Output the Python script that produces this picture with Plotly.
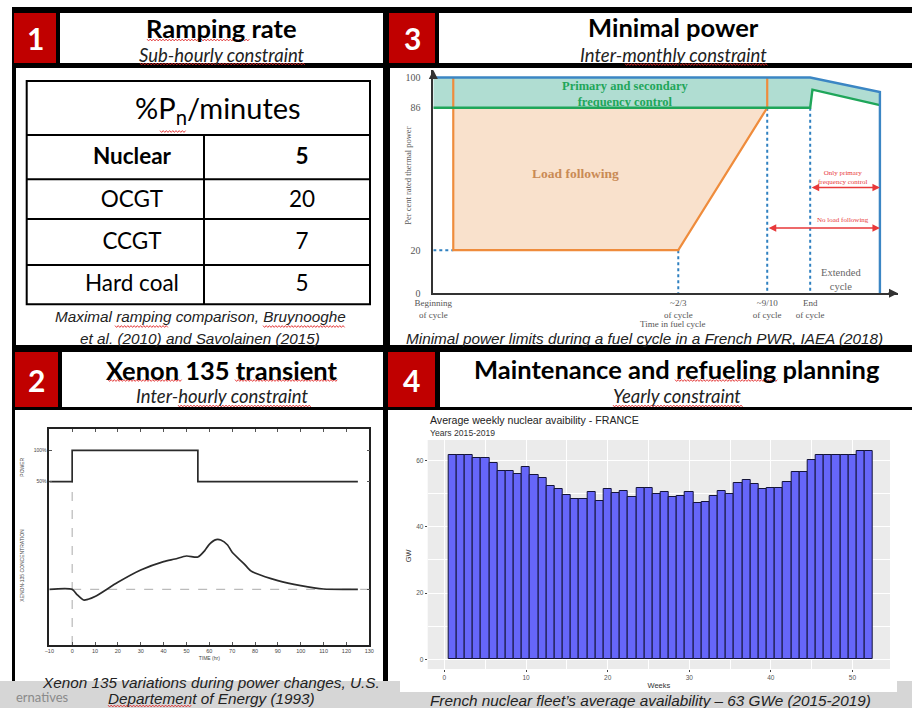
import plotly.graph_objects as go

W, H = 912, 708

# ---------------- data ----------------
# Panel 1 : ramping rate table
ramp_header = "%P<sub>n</sub>/minutes"
ramp_tech = ["Nuclear", "OCGT", "CCGT", "Hard coal"]
ramp_rate = [5, 20, 7, 5]

# Panel 2 : xenon 135 transient
power_time = [-10, 0, 55, 125]
power_pct = [50, 100, 50, 50]
xenon_time = [-10, 0, 2, 5, 7, 10, 20, 30, 40, 45, 50, 55, 58, 60, 63, 65, 68, 70, 75, 78, 80, 90, 100, 110, 125]
xenon_rel = [1.0, 1.0, 0.95, 0.893, 0.9, 0.927, 1.07, 1.193, 1.277, 1.303, 1.333, 1.323, 1.387, 1.45, 1.497,
             1.493, 1.443, 1.37, 1.26, 1.187, 1.163, 1.087, 1.037, 1.003, 1.0]
xenon_ref = 1.0
time_ticks = list(range(-10, 131, 10))
power_ticks = [50, 100]
power_tick_text = ["50%", "100%"]

# Panel 3 : minimal power during a fuel cycle
cycle_pos = [0, 0.650, 0.886, 1.0]
cycle_labels = ["Beginning<br>of cycle", "~2/3<br>of cycle", "~9/10<br>of cycle", "End<br>of cycle"]
thermal_ticks = [0, 20, 86, 100]
maxpow_x = [0, 1.0, 1.185, 1.185]
maxpow_y = [100, 100, 93.3, 0]
freqctl_x = [0, 1.0, 1.006, 1.185]
freqctl_y = [86, 86, 94.4, 87.2]
loadfol_x = [0.053, 0.053, 0.650, 0.886, 0.886]
loadfol_y = [100, 20, 20, 86, 100]

# Panel 4 : weekly nuclear availability
weeks = list(range(1, 53))
avail_gw = [61.7, 61.7, 61.7, 60.7, 60.7, 59.2, 56.9, 56.9, 56.1, 58.2,
            55.8, 54.9, 52.3, 51.4, 49.6, 48.3, 48.3, 50.5, 47.8, 51.4,
            50.1, 50.9, 49.1, 51.7, 51.7, 50.0, 50.4, 48.9, 49.4, 50.4,
            47.2, 47.4, 49.3, 50.8, 49.8, 53.3, 54.2, 52.9, 51.3, 51.7,
            51.7, 53.6, 56.7, 56.7, 60.3, 61.8, 61.8, 61.8, 61.8, 61.8,
            63.0, 63.0]
week_ticks = [0, 10, 20, 30, 40, 50]
gw_ticks = [0, 20, 40, 60]

# ---------------- helpers ----------------
CAL = "Lato, Carlito, sans-serif"
ARI = "Liberation Sans, Arial, sans-serif"
TNR = "Liberation Serif, Times New Roman, serif"


def X(p):
    return p / W


def Y(p):
    return 1 - p / H


def dx(a, b):
    return [X(a), X(b)]


def dy(top, bottom):
    return [Y(bottom), Y(top)]


shapes = []
anns = []


def rect(x0, y0, x1, y1, fill, line=None, lw=0, layer="below"):
    shapes.append(dict(type="rect", xref="paper", yref="paper",
                       x0=X(x0), x1=X(x1), y0=Y(y1), y1=Y(y0),
                       fillcolor=fill, line=dict(color=line or fill, width=lw), layer=layer))


def seg(x0, y0, x1, y1, color="black", lw=2):
    shapes.append(dict(type="line", xref="paper", yref="paper",
                       x0=X(x0), x1=X(x1), y0=Y(y0), y1=Y(y1),
                       line=dict(color=color, width=lw), layer="above"))


def squiggle(x0, x1, y, step=1.6, amp=0.9):
    """spell-check style red wavy underline (decoration of the slide)"""
    pts = []
    k = 0
    x = x0
    while x <= x1:
        yy = y + (amp if k % 2 else -amp)
        pts.append(f"{X(x):.5f},{Y(yy):.5f}")
        x += step
        k += 1
    shapes.append(dict(type="path", xref="paper", yref="paper", path="M " + " L ".join(pts),
                       line=dict(color="#e02828", width=0.9), layer="above"))


def text(x, y, s, size, family=CAL, color="#000", xanchor="center", angle=0):
    anns.append(dict(x=X(x), y=Y(y), xref="paper", yref="paper", text=s, showarrow=False,
                     font=dict(family=family, size=size, color=color),
                     xanchor=xanchor, yanchor="middle", textangle=angle))


RED = "#c00000"
TSZ = 25.5   # panel titles
SSZ = 18.5   # panel subtitles
CSZ = 15.3   # captions

# ---------------- frame ----------------
rect(12, 7, 912, 682, "black")
# headers
rect(14, 13, 56, 63, RED)
rect(60, 13, 383, 63, "white")
rect(389, 13, 435, 63, RED)
rect(439, 13, 912, 63, "white")
rect(15, 352, 58, 407, RED)
rect(62, 352, 383, 407, "white")
rect(388, 352, 435, 407, RED)
rect(440, 352, 912, 407, "white")
# bodies
rect(16, 68, 383, 345, "white")
rect(390, 68, 912, 345, "white")
rect(15, 410, 383, 682, "white")
rect(388, 410, 912, 682, "white")
# bottom grey band
rect(0, 681, 912, 708, "#d6d6d6")
rect(400, 681, 897, 692, "white")
text(14, 697, "ernatives", 13, CAL, "#8a8a8a", xanchor="left")

# numbers
text(35, 38, "<b>1</b>", 30, CAL, "white")
text(412, 38, "<b>3</b>", 30, CAL, "white")
text(36.5, 380, "<b>2</b>", 30, CAL, "white")
text(411.5, 380, "<b>4</b>", 30, CAL, "white")

# titles
text(221.7, 28, "<b>Ramping rate</b>", TSZ)
text(221.7, 55, "<i>Sub-hourly constraint</i>", SSZ, color="#222")
text(673, 27, "<b>Minimal power</b>", TSZ)
text(673, 54.5, "<i>Inter-monthly constraint</i>", SSZ, color="#222")
text(222, 369.5, "<b>Xenon 135 transient</b>", TSZ)
text(222, 395.5, "<i>Inter-hourly constraint</i>", SSZ, color="#222")
text(677, 369, "<b>Maintenance and refueling planning</b>", TSZ)
text(677, 395.5, "<i>Yearly constraint</i>", SSZ, color="#222")

# captions
text(200, 316.7, "<i>Maximal ramping comparison, Bruynooghe</i>", CSZ, ARI, "#222")
text(200, 338.3, "<i>et al. (2010) and Savolainen (2015)</i>", CSZ, ARI, "#222")
text(644, 338, "<i>Minimal power limits during a fuel cycle in a French PWR, IAEA (2018)</i>", CSZ, ARI, "#222")
text(211, 682, "<i>Xenon 135 variations during power changes, U.S.</i>", CSZ, ARI, "#222")
text(211.7, 698.5, "<i>Departement of Energy (1993)</i>", CSZ, ARI, "#222")
text(650, 700, "<i>French nuclear fleet\u2019s average availability \u2013 63 GWe (2015-2019)</i>", CSZ, ARI, "#222")

# spell-check underlines seen on the slide
squiggle(147, 250, 40)
squiggle(140, 305, 64)
squiggle(625, 768, 64.5)
squiggle(160, 187, 131.5)
squiggle(115, 168, 326.5)
squiggle(263, 345, 326.5)
squiggle(108, 182, 380.5)
squiggle(235, 338, 380.5)
squiggle(178, 312, 406)
squiggle(675, 778, 380.5)
squiggle(613, 743, 406)
squiggle(108, 192, 706)

# ---------------- panel 1 table ----------------
rect(26.7, 81, 370, 304.3, "rgba(0,0,0,0)", "black", 2, layer="above")
for yy in [135, 179.3, 219, 265]:
    seg(26.7, yy, 370, yy)
seg(204, 135, 204, 304.3)
text(218, 110, ramp_header, 29)

fig = go.Figure()
fig.add_trace(go.Scatter(
    x=[0] * len(ramp_tech), y=ramp_tech, mode="text",
    text=[f"<b>{t}</b>" if i == 0 else t for i, t in enumerate(ramp_tech)],
    textfont=dict(family=CAL, size=22.5, color="black"), xaxis="x", yaxis="y", hoverinfo="skip"))
fig.add_trace(go.Scatter(
    x=[1] * len(ramp_tech), y=ramp_tech, mode="text",
    text=[f"<b>{v}</b>" if i == 0 else str(v) for i, v in enumerate(ramp_rate)],
    textfont=dict(family=CAL, size=22.5, color="black"), xaxis="x", yaxis="y", hoverinfo="skip"))

# ---------------- panel 2 xenon ----------------
fig.add_trace(go.Scatter(x=power_time, y=power_pct, mode="lines",
                         line=dict(color="#2b2b2b", width=1.7, shape="hv"),
                         xaxis="x2", yaxis="y4", hoverinfo="skip"))
fig.add_trace(go.Scatter(x=xenon_time, y=xenon_rel, mode="lines",
                         line=dict(color="#2b2b2b", width=1.7, shape="spline", smoothing=0.7),
                         xaxis="x2", yaxis="y2", hoverinfo="skip"))
PWR_RANGE = [-210, 133.9]
shapes.append(dict(type="line", xref="x2", yref="y2", x0=0, x1=130, y0=xenon_ref, y1=xenon_ref,
                   line=dict(color="#aaaaaa", width=1, dash="dash"), layer="below"))
shapes.append(dict(type="line", xref="x2", yref="y4", x0=0, x1=0, y0=PWR_RANGE[0], y1=power_pct[0],
                   line=dict(color="#aaaaaa", width=1, dash="dash"), layer="below"))
text(21.7, 467, "POWER", 5, ARI, "#444", angle=-90)
text(21.7, 565, "XENON-135 CONCENTRATION", 5, ARI, "#444", angle=-90)

# ---------------- panel 3 minimal power ----------------
fig.add_trace(go.Scatter(x=maxpow_x[:3] + freqctl_x[::-1], y=maxpow_y[:3] + freqctl_y[::-1],
                         fill="toself", fillcolor="rgba(150,210,195,0.75)", mode="lines",
                         line=dict(width=0), xaxis="x3", yaxis="y3", hoverinfo="skip"))
fig.add_trace(go.Scatter(x=[loadfol_x[0]] + loadfol_x[1:4], y=[freqctl_y[0]] + loadfol_y[1:4],
                         fill="toself", fillcolor="#f9e1cc", mode="lines",
                         line=dict(width=0), xaxis="x3", yaxis="y3", hoverinfo="skip"))
low, mid = loadfol_y[1], freqctl_y[0]
fig.add_trace(go.Scatter(
    x=[0, loadfol_x[0], None, cycle_pos[1], cycle_pos[1], None, cycle_pos[2], cycle_pos[2], None,
       cycle_pos[3], cycle_pos[3]],
    y=[low, low, None, low, 0, None, mid, 0, None, mid, 0],
    mode="lines", line=dict(color="#2f80c0", width=2, dash="dot"),
    xaxis="x3", yaxis="y3", hoverinfo="skip"))
fig.add_trace(go.Scatter(x=loadfol_x, y=loadfol_y, mode="lines",
                         line=dict(color="#ef8c3c", width=2.2), xaxis="x3", yaxis="y3", hoverinfo="skip"))
fig.add_trace(go.Scatter(x=freqctl_x, y=freqctl_y, mode="lines",
                         line=dict(color="#1fa65a", width=2.4), xaxis="x3", yaxis="y3", hoverinfo="skip"))
fig.add_trace(go.Scatter(x=maxpow_x, y=maxpow_y, mode="lines",
                         line=dict(color="#3b86c4", width=2.4), xaxis="x3", yaxis="y3", hoverinfo="skip"))

X3_RANGE = [0, 1.233]
Y3_RANGE = [0, 103.5]


def ann3(x, y, s, size, color, family=TNR):
    anns.append(dict(x=x, y=y, xref="x3", yref="y3", text=s, showarrow=False,
                     font=dict(family=family, size=size, color=color)))


ann3(0.508, 92.4, "<b>Primary and secondary<br>frequency control</b>", 12.5, "#1fa65a")
ann3(0.376, 55.7, "<b>Load following</b>", 13.5, "#c98a55")
ann3(1.087, 53.7, "Only primary<br>frequency control", 7, "#e8393a")
ann3(1.087, 34.0, "No load following", 7, "#e8393a")
ann3(1.081, 6.6, "Extended<br>cycle", 10.5, "#666")
for (xa, xb, yv) in [(1.0, 1.185, 49), (0.886, 1.185, 30.3)]:
    anns.append(dict(x=xb, y=yv, ax=xa, ay=yv, xref="x3", yref="y3", axref="x3", ayref="y3",
                     text="", showarrow=True, arrowhead=2, arrowside="end+start",
                     arrowsize=1, arrowwidth=1.5, arrowcolor="#e8393a"))
# axis arrows
anns.append(dict(x=X3_RANGE[1], y=0, ax=X3_RANGE[1] - 0.03, ay=0, xref="x3", yref="y3", axref="x3",
                 ayref="y3", text="", showarrow=True, arrowhead=2, arrowsize=1.2, arrowwidth=1.5,
                 arrowcolor="#333"))
anns.append(dict(x=0, y=Y3_RANGE[1], ax=0, ay=Y3_RANGE[1] - 4, xref="x3", yref="y3", axref="x3",
                 ayref="y3", text="", showarrow=True, arrowhead=2, arrowsize=1.2, arrowwidth=1.5,
                 arrowcolor="#333"))
text(672, 324.5, "Time in fuel cycle", 9, TNR, "#555")
text(407.7, 176, "Per cent rated thermal power", 8.5, TNR, "#555", angle=-90)

# ---------------- panel 4 bars ----------------
fig.add_trace(go.Bar(x=weeks, y=avail_gw, width=1, marker=dict(color="#6666f9", line=dict(color="#14143a", width=1)),
                     xaxis="x5", yaxis="y5", hoverinfo="skip"))
shapes.append(dict(type="rect", xref="x5 domain", yref="y5 domain", x0=0, x1=1, y0=0, y1=1,
                   fillcolor="#ebebeb", line=dict(width=0), layer="below"))
text(428, 420, "Average weekly nuclear avaibility - FRANCE", 10.6, ARI, "#222", xanchor="left")
text(428, 432.5, "Years 2015-2019", 8.6, ARI, "#333", xanchor="left")
text(408.3, 555, "GW", 7.5, ARI, "#333", angle=-90)

# ---------------- layout ----------------
hidden = dict(visible=False, fixedrange=True, automargin=False)
fig.update_layout(
    width=W, height=H, margin=dict(l=0, r=0, t=0, b=0, pad=0, autoexpand=False), showlegend=False,
    paper_bgcolor="white", plot_bgcolor="rgba(0,0,0,0)", bargap=0,
    xaxis=dict(domain=dx(26.7, 370), range=[-0.619, 1.4], anchor="y", **hidden),
    yaxis=dict(domain=dy(137.5, 306.8), type="category", categoryarray=ramp_tech,
               range=[3.5, -0.5], anchor="x", **hidden),
    xaxis2=dict(domain=dx(49.3, 369.3), range=[-10, 130], anchor="y2", showline=True, automargin=False,
                linecolor="#222", linewidth=1.5, mirror="ticks", ticks="inside", ticklen=3,
                tickcolor="#555", tickvals=time_ticks, tickfont=dict(family=ARI, size=5.5, color="#444"),
                showgrid=False, zeroline=False,
                title=dict(text="TIME (hr)", font=dict(family=ARI, size=5, color="#444"), standoff=3)),
    yaxis2=dict(domain=dy(429, 645), range=[0.443, 2.603], anchor="x2", side="right", showline=True,
                automargin=False,
                linecolor="#222", linewidth=1.5, ticks="inside", ticklen=3, tickcolor="#555",
                tickvals=[xenon_ref], showticklabels=False, showgrid=False, zeroline=False),
    yaxis4=dict(overlaying="y2", anchor="x2", side="left", range=PWR_RANGE, showline=True, automargin=False,
                linecolor="#222", linewidth=1.5, mirror="ticks", ticks="inside", ticklen=3,
                tickcolor="#555", tickvals=power_ticks, ticktext=power_tick_text,
                tickfont=dict(family=ARI, size=5, color="#444"), showgrid=False, zeroline=False),
    xaxis3=dict(domain=dx(433.3, 898), range=X3_RANGE, anchor="y3", showline=True, linecolor="#333",
                automargin=False,
                linewidth=1.5, tickvals=cycle_pos, ticktext=cycle_labels, ticks="",
                tickfont=dict(family=TNR, size=9, color="#555"), showgrid=False, zeroline=False),
    yaxis3=dict(domain=dy(70, 293.3), range=Y3_RANGE, anchor="x3", showline=True, linecolor="#333",
                automargin=False,
                linewidth=1.5, tickvals=thermal_ticks, ticktext=[str(v) for v in thermal_ticks],
                ticks="outside", ticklen=9, tickcolor="rgba(0,0,0,0)",
                tickfont=dict(family=TNR, size=10, color="#555"), showgrid=False, zeroline=False),
    xaxis5=dict(domain=dx(427.7, 890), range=[-2.05, 54.6], anchor="y5", tickvals=week_ticks,
                automargin=False,
                ticks="outside", ticklen=2, tickcolor="#444", tickfont=dict(family=ARI, size=6.5, color="#555"),
                showgrid=True, gridcolor="white", gridwidth=1,
                minor=dict(dtick=5, tick0=0, showgrid=True, gridcolor="white", gridwidth=0.5),
                zeroline=False, showline=False,
                title=dict(text="Weeks", font=dict(family=ARI, size=7.5, color="#333"), standoff=2)),
    yaxis5=dict(domain=dy(440, 669), range=[-2.93, 66.25], anchor="x5", tickvals=gw_ticks,
                automargin=False,
                ticks="outside", ticklen=2, tickcolor="#444", tickfont=dict(family=ARI, size=6.5, color="#555"),
                showgrid=True, gridcolor="white", gridwidth=1,
                minor=dict(dtick=10, tick0=0, showgrid=True, gridcolor="white", gridwidth=0.5),
                zeroline=False, showline=False),
    shapes=shapes, annotations=anns,
)

fig.write_html("out.html", config={"displayModeBar": False},
               post_script="document.body.style.margin='0px';document.body.style.overflow='hidden';")
